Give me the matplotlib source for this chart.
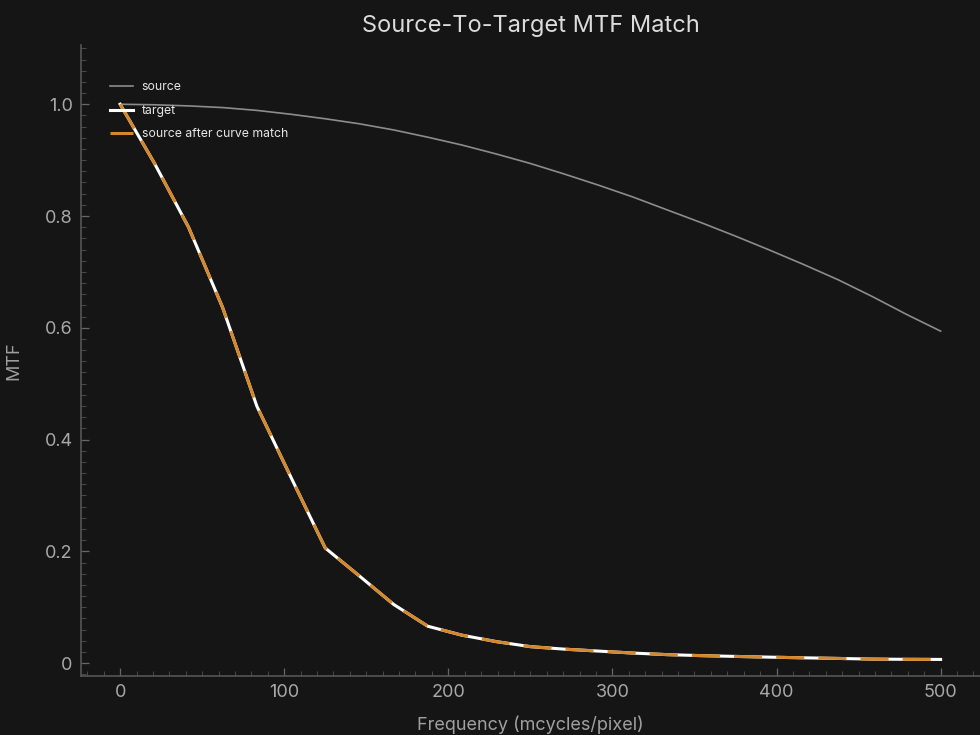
import matplotlib
matplotlib.use("Agg")
import matplotlib.pyplot as plt
from matplotlib.ticker import MultipleLocator, FuncFormatter

plt.rcParams["font.family"] = ["Inter", "DejaVu Sans"]

# frequencies sampled in 25 steps from 0 to 500 mcycles/pixel
freq = [0.0, 20.8, 41.7, 62.5, 83.3, 104.2, 125.0, 145.8, 166.7, 187.5,
        208.3, 229.2, 250.0, 270.8, 291.7, 312.5, 333.3, 354.2, 375.0,
        395.8, 416.7, 437.5, 458.3, 479.2, 500.0]

source = [1.000, 0.999, 0.997, 0.994, 0.989, 0.982, 0.974, 0.965, 0.954,
          0.941, 0.927, 0.911, 0.894, 0.875, 0.855, 0.834, 0.811, 0.788,
          0.764, 0.739, 0.713, 0.686, 0.656, 0.624, 0.594]

target = [1.000, 0.895, 0.780, 0.636, 0.460, 0.332, 0.206, 0.156, 0.105,
          0.066, 0.050, 0.0385, 0.0295, 0.025, 0.0215, 0.018, 0.0152,
          0.0134, 0.012, 0.0107, 0.0095, 0.0084, 0.0072, 0.0068, 0.0066]

matched = target  # curve-matched source lies on top of the target

bg = "#151515"
fig = plt.figure(figsize=(9.8, 7.35), dpi=100, facecolor=bg)
ax = fig.add_axes([0.0827, 0.0803, 0.9173, 0.8585], facecolor=bg)

ax.plot(freq, source, color="#8c8c8c", lw=1.2, label="source")
ax.plot(freq, target, color="white", lw=2.2, label="target")
ax.plot(freq, matched, color="#d4882b", lw=2.2, dashes=(9.2, 4.6),
        label="source after curve match")

ax.set_xlim(-23.8, 524)
ax.set_ylim(-0.023, 1.106)

ax.xaxis.set_major_locator(MultipleLocator(100))
ax.xaxis.set_minor_locator(MultipleLocator(10))
ax.yaxis.set_major_locator(MultipleLocator(0.2))
ax.yaxis.set_minor_locator(MultipleLocator(0.02))
ax.yaxis.set_major_formatter(FuncFormatter(lambda v, p: "0" if abs(v) < 1e-9 else f"{v:.1f}"))

for side in ["top", "right"]:
    ax.spines[side].set_visible(False)
for side in ["left", "bottom"]:
    ax.spines[side].set_color("#555555")
    ax.spines[side].set_linewidth(1.2)

ax.tick_params(which="major", direction="in", length=6, width=0.9,
               color="#666666", labelcolor="#a8a8a8", labelsize=13, pad=6)
ax.tick_params(which="minor", direction="in", length=3.5, width=0.7,
               color="#4a4a4a")

ax.set_xlabel("Frequency (mcycles/pixel)", color="#a0a0a0", fontsize=13, labelpad=10)
ax.set_ylabel("MTF", color="#a0a0a0", fontsize=13, labelpad=16)
ax.set_title("Source-To-Target MTF Match", color="#dcdcdc", fontsize=17, pad=9)

leg = ax.legend(loc="upper left", bbox_to_anchor=(0.02, 0.96), frameon=False,
                fontsize=8.8, labelspacing=0.95, handlelength=1.85, handletextpad=0.75)
for t in leg.get_texts():
    t.set_color("#e6e6e6")

fig.savefig("out.png", dpi=100, facecolor=bg)
